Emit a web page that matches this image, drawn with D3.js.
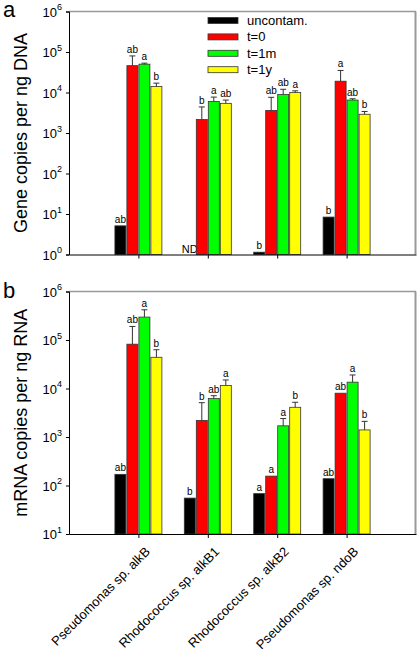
<!DOCTYPE html>
<html><head><meta charset="utf-8">
<script src="https://cdn.jsdelivr.net/npm/d3@7"></script>
<style>body{margin:0;background:#fff}svg{display:block;font-family:"Liberation Sans",Arial,sans-serif}</style>
</head><body><svg id="c" width="420" height="653"></svg>
<script>
const categories = ["Pseudomonas sp. alkB","Rhodococcus sp. alkB1","Rhodococcus sp. alkB2","Pseudomonas sp. ndoB"];
const series = ["uncontam.","t=0","t=1m","t=1y"];
const colors = ["#000000","#ff0000","#00ff00","#ffff00"];

// Panel a: gene copies per ng DNA
const dnaUncontam = [5.1, null, 1.14, 8.4];
const dnaT0 = [46000, 2150, 3600, 19000];
const dnaT1m = [50000, 6000, 8900, 6500];
const dnaT1y = [14000, 5400, 10000, 2900];
const dnaErrUncontam = [null, null, null, null];
const dnaErrT0 = [80000, 4400, 7600, 35000];
const dnaErrT1m = [53000, 7700, 12000, 7000];
const dnaErrT1y = [17000, 6500, 11000, 3400];
const dnaLetUncontam = ["ab","ND","b","b"];
const dnaLetT0 = ["ab","b","ab","a"];
const dnaLetT1m = ["a","a","ab","ab"];
const dnaLetT1y = ["b","ab","a","b"];

// Panel b: mRNA copies per ng RNA
const rnaUncontam = [170, 55, 68, 138];
const rnaT0 = [82000, 2200, 156, 8000];
const rnaT1m = [297000, 6200, 1700, 13500];
const rnaT1y = [44000, 11500, 4100, 1400];
const rnaErrUncontam = [null, null, null, null];
const rnaErrT0 = [190000, 5100, null, null];
const rnaErrT1m = [420000, 7100, 2400, 19000];
const rnaErrT1y = [63000, 15000, 5200, 2100];
const rnaLetUncontam = ["ab","b","a","ab"];
const rnaLetT0 = ["ab","b","a","ab"];
const rnaLetT1m = ["a","ab","a","a"];
const rnaLetT1y = ["b","a","b","b"];

const yTicksA = [1,10,100,1000,10000,100000,1000000];
const yTicksB = [10,100,1000,10000,100000,1000000];

const svg = d3.select("#c");
const x = d3.scaleLinear().domain([0,5]).range([69,416]);
const inner = d3.scaleBand().domain(series).range([-24,24]).padding(0);

function panel(cfg){
  const g = svg.append("g");
  const y = d3.scaleLog().domain(cfg.domain).range([cfg.bottom, cfg.top]);
  const means = cfg.means, errs = cfg.errs, lets = cfg.lets;
  // frame: top & right gray
  g.append("line").attr("x1",69).attr("x2",416).attr("y1",cfg.top).attr("y2",cfg.top)
    .attr("stroke","#999").attr("stroke-width",1.5);
  g.append("line").attr("x1",415.5).attr("x2",415.5).attr("y1",cfg.top).attr("y2",cfg.bottom)
    .attr("stroke","#999").attr("stroke-width",2);
  // bars
  series.forEach((s,si)=>{
    categories.forEach((c,ci)=>{
      const v = means[si][ci];
      const bx = x(ci+1) + inner(s);
      const bw = inner.bandwidth();
      if (v != null) {
        g.append("rect").attr("x",bx+0.5).attr("y",y(v)).attr("width",bw-1)
          .attr("height",cfg.bottom - y(v)).attr("fill",colors[si])
          .attr("stroke","#333").attr("stroke-width",0.8);
      }
      const e = errs[si][ci];
      let topY = v != null ? y(v) : cfg.bottom;
      if (e != null) {
        const cx = bx + bw/2;
        g.append("line").attr("x1",cx).attr("x2",cx).attr("y1",y(v)).attr("y2",y(e)).attr("stroke","#333").attr("stroke-width",1);
        g.append("line").attr("x1",cx-3).attr("x2",cx+3).attr("y1",y(e)).attr("y2",y(e)).attr("stroke","#333").attr("stroke-width",1);
        topY = y(e);
      }
      const L = lets[si][ci];
      if (L) {
        g.append("text").attr("x",bx + bw/2).attr("y", v==null ? cfg.bottom-2 : topY-3)
          .attr("text-anchor","middle").attr("font-size", v==null ? 11 : 10).attr("fill","#000").text(L);
      }
    });
  });
  // y axis
  const ya = d3.axisLeft(y).tickValues(cfg.ticks).tickSize(3).tickFormat("");
  const yg = g.append("g").attr("transform","translate(69,0)").call(ya);
  yg.select(".domain").attr("stroke","#000");
  yg.selectAll(".tick line").attr("stroke","#000");
  yg.selectAll(".tick").each(function(d){
    const t = d3.select(this).append("text").attr("x",-7).attr("dy","0.35em")
      .attr("text-anchor","end").attr("fill","#000").attr("font-size",13);
    t.append("tspan").text("10");
    t.append("tspan").attr("font-size",9).attr("dy","-0.7em").text(Math.round(Math.log10(d)));
  });
  // x axis
  const xa = d3.axisBottom(x).tickValues([1,2,3,4]).tickSize(4).tickSizeOuter(0).tickFormat("");
  const xg = g.append("g").attr("transform",`translate(0,${cfg.bottom})`).call(xa);
  xg.select(".domain").attr("stroke","#000");
  xg.selectAll(".tick line").attr("stroke","#000");
  // y label
  g.append("text").attr("transform",`translate(27,${(cfg.top+cfg.bottom)/2}) rotate(-90)`)
    .attr("text-anchor","middle").attr("font-size",18).attr("fill","#000").text(cfg.label);
  // panel letter
  g.append("text").attr("x",3).attr("y",cfg.letterY).attr("font-size",22).attr("fill","#000").text(cfg.letter);
  return {g,y};
}

panel({domain:[1,1e6], top:11.5, bottom:254.5, ticks:yTicksA,
  means:[dnaUncontam,dnaT0,dnaT1m,dnaT1y], errs:[dnaErrUncontam,dnaErrT0,dnaErrT1m,dnaErrT1y],
  lets:[dnaLetUncontam,dnaLetT0,dnaLetT1m,dnaLetT1y], label:"Gene copies per ng DNA", letter:"a", letterY:17});
panel({domain:[10,1e6], top:291.5, bottom:534, ticks:yTicksB,
  means:[rnaUncontam,rnaT0,rnaT1m,rnaT1y], errs:[rnaErrUncontam,rnaErrT0,rnaErrT1m,rnaErrT1y],
  lets:[rnaLetUncontam,rnaLetT0,rnaLetT1m,rnaLetT1y], label:"mRNA copies per ng RNA", letter:"b", letterY:298});

// category labels
categories.forEach((c,i)=>{
  svg.append("text").attr("transform",`translate(${x(i+1)+6},${546}) rotate(-45)`)
    .attr("text-anchor","end").attr("dy","0.7em").attr("font-size",13).attr("fill","#000").text(c);
});

// legend
const leg = svg.append("g");
series.forEach((s,i)=>{
  const yy = 20.5 + i*16.4;
  leg.append("rect").attr("x",208).attr("y",yy-3).attr("width",30).attr("height",6)
    .attr("fill",colors[i]).attr("stroke","#333").attr("stroke-width",0.8);
  leg.append("text").attr("x",247).attr("y",yy).attr("dy","0.35em").attr("font-size",13).attr("fill","#000").text(s);
});
</script></body></html>
